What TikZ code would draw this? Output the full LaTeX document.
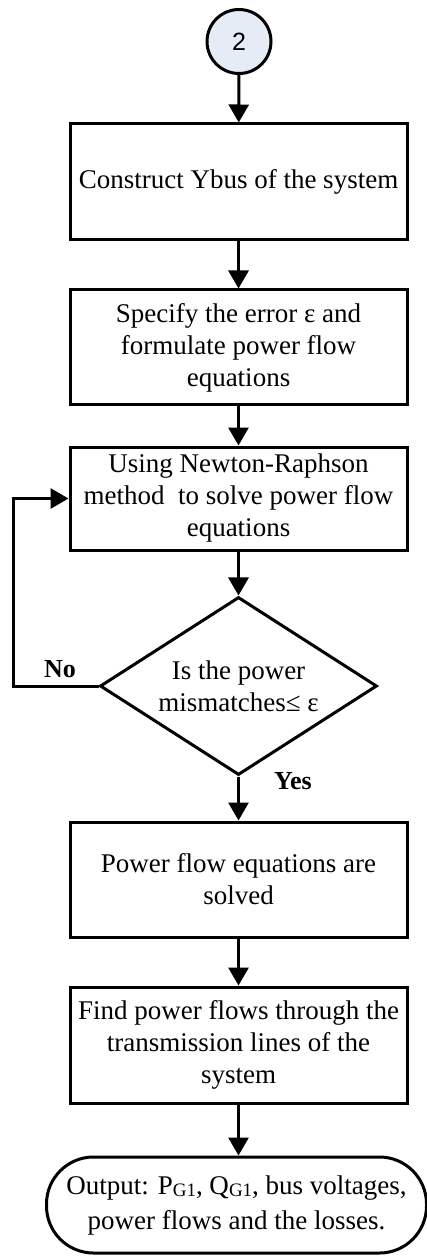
\documentclass[tikz,border=0pt]{standalone}
\usepackage{fontspec}
\setmainfont{Liberation Serif}
\newfontfamily\labelsans{Liberation Sans}
\usetikzlibrary{shapes.geometric,arrows.meta}

% subscript set smaller and slightly lowered, as in P_G1
\newcommand{\lowsub}[1]{{\fontsize{9.5}{10}\selectfont\raisebox{-1pt}{#1}}}

\begin{document}
\begin{tikzpicture}[x=0.5pt,y=-0.5pt,
  procbox/.style={draw=black, line width=1.5pt, minimum width=168.5pt,
    inner sep=2pt, align=center, font=\fontsize{13.5}{16}\selectfont},
  decision/.style={draw=black, line width=1.5pt, diamond, inner sep=0pt,
    minimum width=138.5pt, minimum height=89pt},
  terminal/.style={draw=black, line width=1.5pt, rounded corners=23.5pt,
    minimum width=190pt, minimum height=48pt, align=center,
    font=\fontsize{13.5}{17.5}\selectfont},
  connector/.style={draw=black, line width=1.5pt,
    circle, minimum size=32pt, inner sep=0pt,
    fill={rgb,255:red,230;green,236;blue,246},
    font=\labelsans\fontsize{12.5}{14}\selectfont},
  arrow/.style={line width=1.5pt, -{Triangle[width=10pt,length=9pt]}},
  answer/.style={font=\bfseries\fontsize{13}{15}\selectfont}]
\useasboundingbox (0,0) rectangle (427,1256);

\node[connector] (start) at (239,41.5) {2};

\node[procbox, minimum height=58pt] (ybus) at (238.5,182)
  {Construct Ybus of the system};

\node[procbox, minimum height=57.5pt] (spec) at (238.5,347.5)
  {Specify the error ε and\\formulate power flow\\equations};

\node[procbox, minimum height=51.5pt] (nr) at (238.5,498.5)
  {Using Newton-Raphson\\method\ \ to solve power flow\\equations};

\node[decision,
  label={[align=center, font=\fontsize{13.5}{16}\selectfont]center:Is the power\\mismatches≤ ε}]
  (check) at (238.5,686) {};

\node[procbox, minimum height=57.5pt] (solved) at (238.5,879.5)
  {Power flow equations are\\solved};

\node[procbox, minimum height=58pt] (lines) at (238.5,1045)
  {Find power flows through the\\transmission lines of the\\system};

\node[terminal] (out) at (236.5,1205)
  {Output: P\lowsub{G1}, Q\lowsub{G1}, bus voltages,\\power flows and the losses.};

\coordinate (loop) at (13,686);

\draw[arrow] (start) -- (ybus);
\draw[arrow] (ybus) -- (spec);
\draw[arrow] (spec) -- (nr);
\draw[arrow] (nr) -- (check);
\draw[arrow] (check) -- (solved);
\draw[arrow] (solved) -- (lines);
\draw[arrow] (lines.south) -- (lines.south |- out.north);
\draw[arrow] (check.west) -- (loop) |- (nr.west);

\node[answer] (no) at (60,669) {No};
\node[answer] (yes) at (293,781) {Yes};
\end{tikzpicture}
\end{document}
